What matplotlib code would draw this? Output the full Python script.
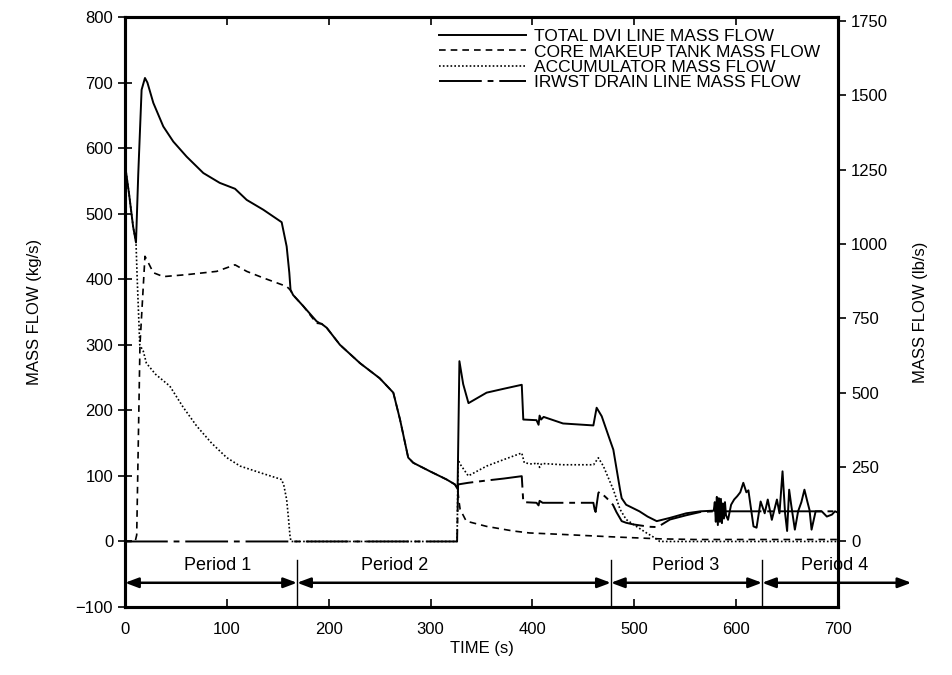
import numpy as np
import matplotlib
matplotlib.use("Agg")
import matplotlib.pyplot as plt
from matplotlib.ticker import MultipleLocator

plt.rcParams['font.family'] = ['Liberation Sans', 'DejaVu Sans']

# ---------------- datos ----------------
# Flujo total en la linea DVI (kg/s)
t_dvi = [0, 4, 8, 10.8, 13, 16.3, 19.6, 22, 27.8, 37.6, 47.4, 60.5, 76.9, 93, 108,
         119.5, 135.8, 153.8, 158.7, 161.3, 162.5, 165, 175, 188, 191, 193, 198, 211,
         230.7, 250, 263.4, 270, 278, 283, 299.4, 315.8, 323.9, 326.5, 328.3, 332,
         337.2, 355, 372, 389.5, 391, 404, 406, 407, 408.5, 411, 430, 459.8, 463, 468,
         476, 479.4, 486, 487.6, 492, 505, 513, 522, 535, 551, 565, 578,
         579, 580, 581, 582, 583, 584, 585, 586, 587, 588, 589, 590, 592, 595, 598,
         601, 604, 607, 610, 612, 615, 617, 620, 624, 628, 631, 635, 640, 642.5,
         645.5, 648, 650, 652, 654, 657.6, 660.8, 664, 667, 670, 672, 674, 678, 684,
         689, 694, 697, 700]
m_dvi = [575, 530, 480, 456, 560, 689, 707, 700, 669, 633, 610, 587, 562, 547, 538,
         521, 506, 487, 450, 410, 384, 376, 359, 336, 333, 332, 326, 300,
         272, 249, 227, 186, 128, 120, 107, 94.5, 87, 80, 275, 240,
         211, 227, 233, 239, 186, 185, 178, 192, 186, 190, 180, 177, 204, 191,
         155, 140, 79, 66, 56, 46, 38, 31, 36, 43, 46, 47,
         60, 30, 68, 25, 66, 30, 65, 28, 58, 35, 60, 40, 33, 56, 64,
         69, 75, 89.5, 75, 78, 45, 23, 21, 61, 43, 64, 33, 64, 43,
         107, 43, 16, 79, 56, 18, 46, 60, 79, 60, 48, 18, 46, 46,
         38, 41, 46, 44]

# Tanque de reposicion del nucleo (CMT)
t_cmt = [0, 10, 11.5, 14.7, 19.6, 22, 27.8, 37.6, 60.5, 90, 108, 119.5, 135.8, 158.7,
         162, 165, 175, 188, 193, 198, 211, 230.7, 250, 263.4, 270, 278, 283, 299.4,
         315.8, 323.9, 326.5, 328, 329, 335, 355, 381, 397, 430, 479, 525, 560, 700]
m_cmt = [0, 0, 10, 300, 435, 428, 410, 404, 407, 412, 422, 412, 402, 389,
         384, 376, 359, 333, 332, 326, 300, 272, 249, 227, 186, 128, 120, 107,
         94.5, 87, 80, 60, 49, 31, 23, 16, 13, 10.7, 7, 4, 3, 3]

# Acumulador
t_acc = [0, 4, 8, 10.8, 12, 14.5, 18, 21, 30, 44, 57, 70.4, 85, 99.8, 113, 132.5,
         153.8, 156, 158.7, 160.5, 162, 163, 326, 327, 329, 337, 355, 372, 389.5,
         392, 400, 405, 407, 409, 430, 460, 464.7, 469.6, 479.4, 486, 492, 502, 512,
         520, 525, 700]
m_acc = [575, 530, 480, 456, 400, 300, 290, 272, 255, 237, 205, 176, 150, 128, 115, 105,
         94.5, 85, 64, 35, 8, 0, 0, 125, 118, 100, 115, 125, 135,
         120, 118, 120, 113, 119, 117, 117, 127.6, 115, 79, 49, 33.5, 23, 13,
         5.6, 0, 0]

# Drenaje del IRWST
t_irw = [0, 326, 327, 337, 355, 372, 389.5, 391, 404, 406, 407, 410, 459.8, 461, 462,
         464.7, 466, 473, 479, 482.5, 487.6, 492, 499, 515, 522, 525, 535, 551, 565,
         578, 700]
m_irw = [0, 0, 87, 89.5, 93, 96, 99.6, 60, 59, 55, 62, 59, 59, 49, 45,
         74, 76, 66, 56, 44.7, 31, 28.5, 26, 22.4, 22, 24, 33.5, 40, 45,
         46, 46]

# periodos
lim_periodos = [0, 168.9, 477, 625.4, 772]
etiquetas = ["Period 1", "Period 2", "Period 3", "Period 4"]
x_etiquetas = [91, 265, 550, 697]

KG_A_LB = 2.20462

# ---------------- grafica ----------------
fig = plt.figure(figsize=(9.52, 6.75), dpi=100)
ax = fig.add_axes([0.1313, 0.1007, 0.7490, 0.8741])

ax.plot(t_dvi, m_dvi, color='k', lw=1.4, label="TOTAL DVI LINE MASS FLOW")
ax.plot(t_cmt, m_cmt, color='k', lw=1.2, dashes=(4, 3),
        label="CORE MAKEUP TANK MASS FLOW")
ax.plot(t_acc, m_acc, color='k', lw=1.2, dashes=(1, 1.3),
        label="ACCUMULATOR MASS FLOW")
ax.plot(t_irw, m_irw, color='k', lw=1.4, dashes=(22, 3, 3, 3),
        label="IRWST DRAIN LINE MASS FLOW")

ax.set_xlim(0, 700)
ax.set_ylim(-100, 800)
ax.xaxis.set_major_locator(MultipleLocator(100))
ax.yaxis.set_major_locator(MultipleLocator(100))
ax.tick_params(axis='x', direction='in', length=6, width=1.2, top=True,
               labelsize=12, pad=11)
ax.tick_params(axis='y', direction='inout', length=10, width=1.2, labelsize=12)
for s in ax.spines.values():
    s.set_linewidth(2.2)

ax.set_xlabel("TIME (s)", fontsize=12, labelpad=3)
ax.set_ylabel("MASS FLOW (kg/s)", fontsize=12, labelpad=24)

ax2 = ax.twinx()
ax2.set_ylim(-100 * KG_A_LB, 800 * KG_A_LB)
ax2.tick_params(axis='y', direction='out', length=6, width=1.2, labelsize=12)
ax2.set_yticks([0, 250, 500, 750, 1000, 1250, 1500, 1750])
ax2.set_ylabel("MASS FLOW (lb/s)", fontsize=12, labelpad=18)
for s in ax2.spines.values():
    s.set_linewidth(2.2)

# flechas de los periodos
y_flecha = -63
for i in range(4):
    ax.annotate('', xy=(lim_periodos[i + 1], y_flecha), xytext=(lim_periodos[i], y_flecha),
                arrowprops=dict(arrowstyle='<|-|>,head_length=0.8,head_width=0.3',
                                lw=1.8, color='k', shrinkA=0, shrinkB=0),
                annotation_clip=False)
    ax.text(x_etiquetas[i], -36, etiquetas[i], ha='center', va='center', fontsize=13)
for xs in lim_periodos[1:4]:
    ax.plot([xs, xs], [-28, -100], color='k', lw=1.0)

ax.legend(loc='upper right', bbox_to_anchor=(0.99, 0.997), frameon=False,
          fontsize=12.5, handlelength=5.0, handletextpad=0.5, labelspacing=0.0,
          borderaxespad=0.2)

fig.savefig("out.png", dpi=100)
